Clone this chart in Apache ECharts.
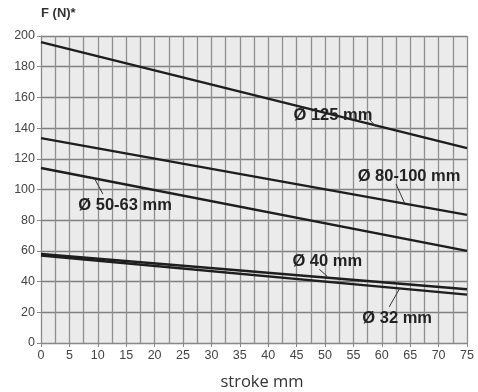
<!DOCTYPE html>
<html>
<head>
<meta charset="utf-8">
<script src="https://cdn.jsdelivr.net/npm/echarts@6/dist/echarts.min.js"></script>
<style>html,body{margin:0;padding:0;background:#fff}#c{width:478px;height:392px}</style>
</head>
<body>
<div id="c"></div>
<script>
// Stroke (mm) at which values were read
const strokes = [0, 75];
// Force F (N) per bore diameter
const d125 = [196, 127];
const d80_100 = [133.5, 83.5];
const d50_63 = [114, 60];
const d40 = [58, 35];
const d32 = [57, 31.5];
const seriesNames = ['Ø 125 mm', 'Ø 80-100 mm', 'Ø 50-63 mm', 'Ø 40 mm', 'Ø 32 mm'];
// Annotation: label anchor (data coords) and leader line from/to (data coords)
const labelAt = [[51.4, 148.5], [64.8, 108.8], [14.8, 89.9], [50.4, 52.8], [62.7, 16.3]];
const leaderFrom = [[57.9, 145.3], [62.5, 103.6], [10.9, 97], [49.0, 48], [61.3, 23.5]];
const leaderTo = [[59, 140.9], [64, 91.2], [9.4, 107.3], [50.4, 43.4], [63.2, 35.9]];
const xTicks = [0, 75, 5];
const yTicks = [0, 200, 20];

const values = [d125, d80_100, d50_63, d40, d32];
const chart = echarts.init(document.getElementById('c'), null, {renderer: 'canvas'});
const series = values.map((v, i) => ({
  name: seriesNames[i],
  type: 'line',
  data: strokes.map((s, j) => [s, v[j]]),
  symbol: 'none',
  lineStyle: {color: '#1e1e1e', width: 2.4},
  z: 3,
  markPoint: {
    symbol: 'circle', symbolSize: 0, silent: true,
    data: [{coord: labelAt[i], value: seriesNames[i]}],
    label: {show: true, position: 'inside', formatter: seriesNames[i],
      fontFamily: 'Liberation Sans, Arial, sans-serif', fontWeight: 'bold', fontSize: 16.5, color: '#222'}
  },
  markLine: {
    symbol: ['none', 'none'], silent: true, animation: false,
    lineStyle: {color: '#333', width: 1, type: 'solid'},
    label: {show: false},
    data: [[{coord: leaderFrom[i]}, {coord: leaderTo[i]}]]
  }
}));

chart.setOption({
  animation: false,
  backgroundColor: '#ffffff',
  grid: {left: 41, right: 11, top: 36, bottom: 49, show: true, backgroundColor: '#ebebeb', borderWidth: 0, outerBoundsMode: 'none', containLabel: false},
  xAxis: {
    type: 'value', min: xTicks[0], max: xTicks[1], interval: xTicks[2],
    name: 'stroke mm', nameLocation: 'middle', nameGap: 31,
    nameTextStyle: {fontFamily: 'Open Sans, sans-serif', fontSize: 16.5, color: '#333', padding: [0, 0, 0, 16]},
    axisLine: {show: true, lineStyle: {color: '#888', width: 1}},
    axisTick: {show: true, length: 4, lineStyle: {color: '#888'}},
    axisLabel: {fontFamily: 'Liberation Sans, Arial, sans-serif', fontSize: 12.5, color: '#444', margin: 6},
    splitLine: {show: true, lineStyle: {color: '#8f8f8f', width: 1.3}},
    minorTick: {show: false, splitNumber: 2},
    minorSplitLine: {show: true, lineStyle: {color: '#8f8f8f', width: 1.3}}
  },
  yAxis: {
    type: 'value', min: yTicks[0], max: yTicks[1], interval: yTicks[2],
    name: 'F (N)*', nameLocation: 'end', nameGap: 16,
    nameTextStyle: {fontFamily: 'Liberation Sans, Arial, sans-serif', fontSize: 13, fontWeight: 'bold', color: '#333', align: 'left'},
    axisLine: {show: true, lineStyle: {color: '#888', width: 1}},
    axisTick: {show: true, length: 4, lineStyle: {color: '#888'}},
    axisLabel: {fontFamily: 'Liberation Sans, Arial, sans-serif', fontSize: 12.5, color: '#444', margin: 6},
    splitLine: {show: true, lineStyle: {color: '#808080', width: 1.3}}
  },
  series: series
});
</script>
</body>
</html>
